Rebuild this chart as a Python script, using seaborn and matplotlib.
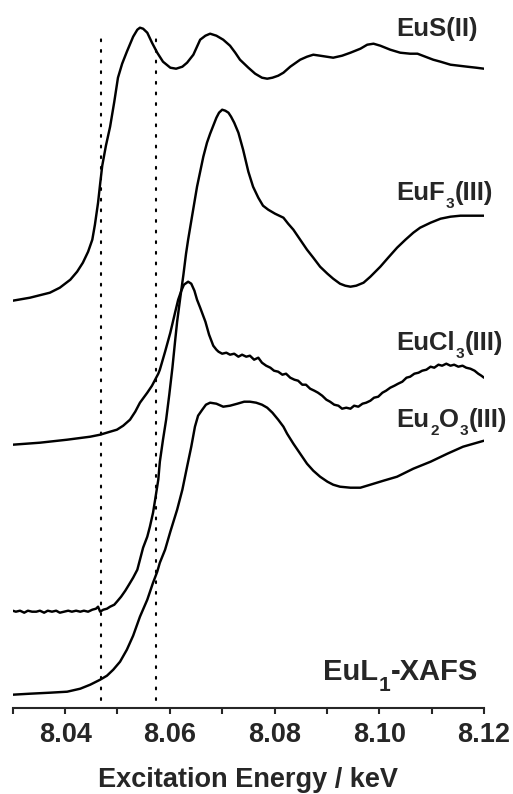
import matplotlib
matplotlib.use("Agg")
import matplotlib.pyplot as plt
import matplotlib.ticker as mticker
import pandas as pd
import seaborn as sns

# spectra: energy (keV) and stacked normalised absorption
eus_e = [8.0300, 8.0333, 8.0371, 8.0390, 8.0410, 8.0423, 8.0434, 8.0444, 8.0452, 8.0457,
         8.0463, 8.0467, 8.0471, 8.0478, 8.0486, 8.0494, 8.0501, 8.0509, 8.0518, 8.0530,
         8.0538, 8.0543, 8.0549, 8.0557, 8.0566, 8.0576, 8.0587, 8.0601, 8.0612, 8.0624,
         8.0633, 8.0645, 8.0658, 8.0668, 8.0677, 8.0689, 8.0702, 8.0715, 8.0725, 8.0734,
         8.0750, 8.0763, 8.0776, 8.0786, 8.0796, 8.0807, 8.0817, 8.0830, 8.0849, 8.0862,
         8.0874, 8.0887, 8.0912, 8.0929, 8.0945, 8.0964, 8.0977, 8.0989, 8.1002, 8.1021,
         8.1040, 8.1059, 8.1073, 8.1088, 8.1103, 8.1117, 8.1136, 8.1168, 8.1185, 8.1200]
eus_mu = [4.07, 4.10, 4.15, 4.20, 4.28, 4.36, 4.45, 4.56, 4.68, 4.83,
          5.05, 5.24, 5.42, 5.62, 5.81, 6.06, 6.30, 6.44, 6.56, 6.71,
          6.78, 6.80, 6.79, 6.75, 6.65, 6.55, 6.46, 6.40, 6.39, 6.41,
          6.45, 6.53, 6.68, 6.72, 6.74, 6.72, 6.68, 6.62, 6.55, 6.48,
          6.40, 6.34, 6.30, 6.29, 6.30, 6.32, 6.35, 6.41, 6.48, 6.51,
          6.53, 6.52, 6.50, 6.52, 6.55, 6.59, 6.63, 6.64, 6.62, 6.58,
          6.55, 6.54, 6.54, 6.51, 6.48, 6.46, 6.43, 6.41, 6.40, 6.39]

euf3_e = [8.0300, 8.0306, 8.0314, 8.0322, 8.0329, 8.0337, 8.0345, 8.0352, 8.0360, 8.0367,
          8.0375, 8.0383, 8.0390, 8.0398, 8.0406, 8.0413, 8.0421, 8.0429, 8.0436, 8.0444,
          8.0452, 8.0459, 8.0463, 8.0467, 8.0473, 8.0480, 8.0486, 8.0494, 8.0499, 8.0507,
          8.0515, 8.0522, 8.0530, 8.0538, 8.0543, 8.0549, 8.0557, 8.0562, 8.0568, 8.0572,
          8.0578, 8.0581, 8.0587, 8.0593, 8.0599, 8.0605, 8.0610, 8.0614, 8.0620, 8.0626,
          8.0631, 8.0635, 8.0643, 8.0652, 8.0658, 8.0664, 8.0671, 8.0677, 8.0683, 8.0689,
          8.0694, 8.0700, 8.0706, 8.0712, 8.0717, 8.0723, 8.0731, 8.0740, 8.0750, 8.0759,
          8.0769, 8.0778, 8.0788, 8.0801, 8.0817, 8.0826, 8.0836, 8.0849, 8.0862, 8.0874,
          8.0887, 8.0901, 8.0912, 8.0925, 8.0935, 8.0945, 8.0956, 8.0970, 8.0983, 8.1002,
          8.1017, 8.1034, 8.1050, 8.1065, 8.1078, 8.1098, 8.1117, 8.1136, 8.1155, 8.1174,
          8.1200]
euf3_mu = [0.97, 0.96, 0.97, 0.95, 0.97, 0.96, 0.96, 0.97, 0.95, 0.97,
           0.96, 0.97, 0.95, 0.96, 0.97, 0.96, 0.97, 0.96, 0.97, 0.96,
           0.98, 0.99, 1.01, 0.96, 0.98, 0.99, 1.01, 1.03, 1.06, 1.11,
           1.17, 1.23, 1.30, 1.38, 1.48, 1.60, 1.71, 1.81, 1.95, 2.08,
           2.28, 2.46, 2.68, 2.88, 3.13, 3.40, 3.66, 3.86, 4.10, 4.33,
           4.54, 4.68, 4.93, 5.21, 5.36, 5.51, 5.65, 5.74, 5.82, 5.90,
           5.95, 5.98, 5.97, 5.95, 5.91, 5.85, 5.75, 5.58, 5.36, 5.21,
           5.10, 5.02, 4.98, 4.94, 4.90, 4.84, 4.78, 4.68, 4.58, 4.50,
           4.41, 4.34, 4.29, 4.24, 4.22, 4.21, 4.22, 4.25, 4.31, 4.41,
           4.50, 4.60, 4.68, 4.75, 4.80, 4.85, 4.89, 4.91, 4.92, 4.92,
           4.92]

eucl3_e = [8.0300, 8.0352, 8.0404, 8.0448, 8.0467, 8.0486, 8.0499, 8.0511, 8.0524, 8.0534,
           8.0543, 8.0557, 8.0566, 8.0572, 8.0578, 8.0581, 8.0591, 8.0601, 8.0610, 8.0616,
           8.0622, 8.0627, 8.0635, 8.0641, 8.0647, 8.0652, 8.0658, 8.0668, 8.0675, 8.0683,
           8.0689, 8.0693, 8.0700, 8.0708, 8.0715, 8.0723, 8.0731, 8.0738, 8.0746, 8.0753,
           8.0761, 8.0769, 8.0776, 8.0784, 8.0792, 8.0799, 8.0807, 8.0815, 8.0822, 8.0830,
           8.0838, 8.0845, 8.0853, 8.0860, 8.0868, 8.0876, 8.0883, 8.0891, 8.0899, 8.0906,
           8.0914, 8.0922, 8.0929, 8.0937, 8.0945, 8.0952, 8.0960, 8.0968, 8.0975, 8.0983,
           8.0990, 8.0998, 8.1006, 8.1013, 8.1021, 8.1029, 8.1036, 8.1044, 8.1052, 8.1059,
           8.1067, 8.1075, 8.1082, 8.1090, 8.1098, 8.1105, 8.1113, 8.1120, 8.1128, 8.1136,
           8.1143, 8.1151, 8.1159, 8.1166, 8.1174, 8.1182, 8.1189, 8.1195, 8.1200]
eucl3_mu = [2.63, 2.65, 2.68, 2.71, 2.73, 2.76, 2.78, 2.82, 2.88, 2.96,
            3.05, 3.15, 3.22, 3.28, 3.34, 3.38, 3.56, 3.75, 3.95, 4.08,
            4.17, 4.23, 4.26, 4.24, 4.17, 4.08, 4.00, 3.86, 3.73, 3.62,
            3.58, 3.56, 3.54, 3.55, 3.53, 3.54, 3.51, 3.53, 3.51, 3.52,
            3.48, 3.50, 3.45, 3.42, 3.40, 3.37, 3.36, 3.33, 3.34, 3.30,
            3.28, 3.27, 3.23, 3.23, 3.19, 3.17, 3.15, 3.12, 3.08, 3.06,
            3.03, 3.02, 2.99, 3.00, 2.99, 3.02, 3.01, 3.04, 3.05, 3.07,
            3.10, 3.11, 3.15, 3.17, 3.20, 3.22, 3.24, 3.26, 3.30, 3.31,
            3.34, 3.35, 3.37, 3.38, 3.41, 3.40, 3.43, 3.42, 3.44, 3.42,
            3.43, 3.41, 3.42, 3.40, 3.39, 3.37, 3.34, 3.32, 3.30]

eu2o3_e = [8.0300, 8.0333, 8.0371, 8.0404, 8.0429, 8.0448, 8.0467, 8.0480, 8.0492, 8.0505,
           8.0518, 8.0530, 8.0543, 8.0557, 8.0568, 8.0576, 8.0581, 8.0591, 8.0601, 8.0614,
           8.0624, 8.0633, 8.0641, 8.0648, 8.0654, 8.0662, 8.0669, 8.0677, 8.0689, 8.0702,
           8.0715, 8.0729, 8.0742, 8.0753, 8.0765, 8.0776, 8.0786, 8.0796, 8.0807, 8.0817,
           8.0824, 8.0836, 8.0849, 8.0862, 8.0874, 8.0887, 8.0901, 8.0912, 8.0925, 8.0945,
           8.0964, 8.0983, 8.1008, 8.1034, 8.1065, 8.1098, 8.1130, 8.1160, 8.1200]
eu2o3_mu = [0.13, 0.14, 0.15, 0.16, 0.19, 0.23, 0.28, 0.32, 0.38, 0.46,
            0.58, 0.72, 0.91, 1.08, 1.25, 1.36, 1.45, 1.58, 1.76, 1.98,
            2.18, 2.41, 2.61, 2.81, 2.92, 2.98, 3.03, 3.05, 3.04, 3.01,
            3.02, 3.04, 3.06, 3.06, 3.05, 3.03, 3.00, 2.95, 2.88, 2.81,
            2.74, 2.64, 2.54, 2.44, 2.37, 2.31, 2.26, 2.23, 2.21, 2.20,
            2.20, 2.23, 2.27, 2.31, 2.39, 2.46, 2.54, 2.61, 2.67]

edge_marks = [8.0469, 8.0574]
mark_span = [0.08, 6.71]

# sample labels as (text, is_subscript) pieces
labels = [
    [("EuS(II)", False)],
    [("EuF", False), ("3", True), ("(III)", False)],
    [("EuCl", False), ("3", True), ("(III)", False)],
    [("Eu", False), ("2", True), ("O", False), ("3", True), ("(III)", False)],
]
label_y = [6.72, 5.08, 3.58, 2.81]
label_x = 8.1033
title_parts = [("EuL", False), ("1", True), ("-XAFS", False)]

sns.set_style("ticks")
plt.rcParams["font.family"] = ["Liberation Sans", "DejaVu Sans"]
plt.rcParams["font.weight"] = "bold"


def chem_text(ax, x, y, pieces, size, sub_scale, drop):
    # subscripts sit well below the baseline, as in the original figure
    desc = 0.21 * size
    main = ax.text(x, y, pieces[0][0], fontsize=size, fontweight="bold", va="baseline")
    last = main
    for txt, is_sub in pieces[1:]:
        if is_sub:
            last = ax.annotate(txt, xy=(1, 0), xycoords=main, xytext=(0.4, desc - drop),
                               textcoords="offset points", fontsize=size * sub_scale,
                               fontweight="bold", va="baseline")
        else:
            last = ax.annotate(txt, xy=(1, 0), xycoords=(last, main), xytext=(0.4, 0),
                               textcoords="offset points", fontsize=size,
                               fontweight="bold", va="bottom")
            main = last


fig = plt.figure(figsize=(5.13, 7.94), dpi=100)
ax = fig.add_axes([12.7 / 513, 86.3 / 794, 471.3 / 513, 707.7 / 794])

frames = [
    pd.DataFrame({"energy": eus_e, "mu": eus_mu, "sample": "EuS"}),
    pd.DataFrame({"energy": euf3_e, "mu": euf3_mu, "sample": "EuF3"}),
    pd.DataFrame({"energy": eucl3_e, "mu": eucl3_mu, "sample": "EuCl3"}),
    pd.DataFrame({"energy": eu2o3_e, "mu": eu2o3_mu, "sample": "Eu2O3"}),
]
for d in frames:
    sns.lineplot(data=d, x="energy", y="mu", ax=ax, color="black", lw=1.75,
                 estimator=None, legend=False)

for e in edge_marks:
    ax.plot([e, e], mark_span, color="black", lw=1.5, ls=(0, (0.9, 4.2)),
            dash_capstyle="round")

for parts, y in zip(labels, label_y):
    chem_text(ax, label_x, y, parts, 18.5, 0.6, 6.5)
chem_text(ax, 8.0892, 0.28, title_parts, 21, 0.72, 8.5)

ax.set_xlim(8.03, 8.12)
ax.set_ylim(0, 7.077)
ax.xaxis.set_major_locator(mticker.MultipleLocator(0.02))
ax.xaxis.set_minor_locator(mticker.MultipleLocator(0.01))
ax.xaxis.set_major_formatter(mticker.FormatStrFormatter("%.2f"))
ax.tick_params(axis="x", which="both", direction="out", length=4, width=1.5,
               labelsize=19.5, pad=6)
ax.set_yticks([])
ax.set_ylabel("")
ax.set_xlabel("Excitation Energy / keV", fontsize=19.5, fontweight="bold", labelpad=14)
for s in ["left", "top", "right"]:
    ax.spines[s].set_visible(False)
ax.spines["bottom"].set_linewidth(1.5)

fig.savefig("out.png", dpi=100)
